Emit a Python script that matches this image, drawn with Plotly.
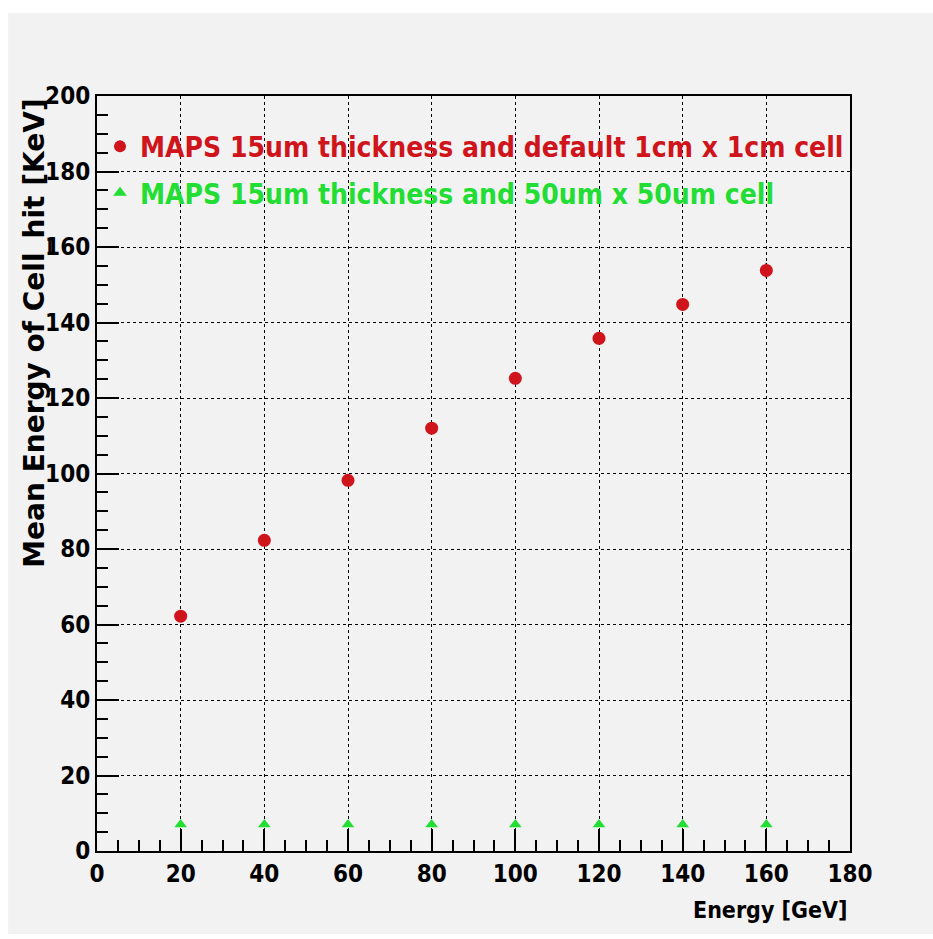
import plotly.graph_objects as go

energy = [20, 40, 60, 80, 100, 120, 140, 160]
mean_1cm = [62.2, 82.3, 98.2, 112.0, 125.2, 135.8, 144.8, 153.8]
err_1cm = [0.8, 0.8, 0.9, 0.9, 1.0, 1.0, 1.1, 2.0]
mean_50um = [7.0, 7.0, 7.0, 7.0, 7.0, 7.0, 7.0, 7.0]
err_50um = [0.3, 0.3, 0.3, 0.3, 0.3, 0.3, 0.3, 0.3]

name_1cm = "MAPS 15um thickness and default 1cm x 1cm cell"
name_50um = "MAPS 15um thickness and 50um x 50um cell"

x_ticks = [0, 20, 40, 60, 80, 100, 120, 140, 160, 180]
y_ticks = [0, 20, 40, 60, 80, 100, 120, 140, 160, 180, 200]

NARROW = "DejaVu Sans Condensed, Liberation Sans Narrow, Liberation Sans, sans-serif"
WIDE = "DejaVu Sans, Liberation Sans, Arial, sans-serif"
RED = "#d0141c"
GREEN = "#22dd33"
PANEL = "#f2f2f2"

fig = go.Figure()
fig.add_trace(go.Scatter(
    x=energy, y=mean_1cm, mode="markers", legendgroup="a",
    name="<span style='color:%s'>%s</span>" % (RED, name_1cm),
    marker=dict(symbol="circle", size=13, color=RED),
    error_y=dict(type="data", array=err_1cm, color="black", thickness=1.5, width=0),
))
fig.add_trace(go.Scatter(
    x=energy, y=mean_50um, mode="markers", legendgroup="b",
    name="<span style='color:%s'>%s</span>" % (GREEN, name_50um),
    marker=dict(symbol="triangle-up", size=11, color=GREEN),
    error_y=dict(type="data", array=err_50um, color="black", thickness=1.5, width=0),
))

axis_common = dict(
    showline=True, linecolor="black", linewidth=2, mirror=True,
    showgrid=True, gridcolor="black", griddash="dot", gridwidth=1,
    zeroline=False, ticks="inside", ticklen=22, tickwidth=2, tickcolor="black",
    tickfont=dict(family=NARROW, size=24, color="black", weight="bold"),
    minor=dict(ticks="inside", ticklen=11, tickwidth=2, tickcolor="black", dtick=5, showgrid=False),
)

fig.update_xaxes(range=[0, 180], tickvals=x_ticks, ticktext=[str(v) for v in x_ticks], **axis_common)
fig.update_yaxes(range=[0, 200], tickvals=y_ticks, ticktext=[str(v) for v in y_ticks], **axis_common)

fig.update_layout(
    width=933, height=939,
    margin=dict(l=97, r=83, t=96, b=88, autoexpand=False),
    paper_bgcolor="white", plot_bgcolor=PANEL,
    showlegend=True,
    legend=dict(x=0.004, y=0.966, xanchor="left", yanchor="top",
                bgcolor="rgba(0,0,0,0)", borderwidth=0,
                font=dict(family=NARROW, size=28, weight="bold"),
                itemsizing="constant", tracegroupgap=7),
    shapes=[dict(type="rect", xref="paper", yref="paper",
                 x0=-0.118, x1=1.12, y0=-0.11, y1=1.11,
                 fillcolor=PANEL, line=dict(width=0), layer="below")],
    annotations=[
        dict(text="Mean Energy of Cell_hit [KeV]", xref="paper", yref="paper",
             x=-0.083, y=0.999, xanchor="center", yanchor="top", textangle=-90,
             showarrow=False, font=dict(family=WIDE, size=28, color="black", weight="bold")),
        dict(text="Energy [GeV]", xref="paper", yref="paper",
             x=1.0, y=-0.058, xanchor="right", yanchor="top",
             showarrow=False, font=dict(family=NARROW, size=23, color="black", weight="bold")),
    ],
)

fig.write_html("out.html")
